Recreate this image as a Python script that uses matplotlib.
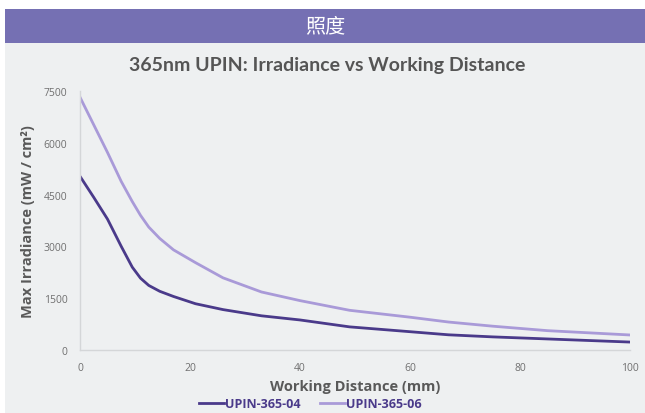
import matplotlib
matplotlib.use("Agg")
import matplotlib.pyplot as plt
from matplotlib.patches import Rectangle

# Dati
distance = [0, 2.5, 5, 7.5, 9.5, 11, 12.5, 14.5, 17, 21, 26, 33, 40, 49, 60, 67, 75, 85, 100]
upin_04 = [5030, 4420, 3790, 3000, 2400, 2080, 1870, 1700, 1550, 1340, 1170, 990, 870,
           670, 530, 440, 380, 320, 230]
upin_06 = [7320, 6520, 5720, 4880, 4300, 3900, 3560, 3230, 2900, 2530, 2090, 1680, 1430,
           1150, 950, 810, 690, 560, 435]
series_names = ["UPIN-365-04", "UPIN-365-06"]
y_ticks = [0, 1500, 3000, 4500, 6000, 7500]
x_ticks = [0, 20, 40, 60, 80, 100]

W, H = 645, 414
fig = plt.figure(figsize=(W / 100, H / 100), dpi=100)
fig.patch.set_facecolor("white")

# sfondo grigio e banda viola
fig.add_artist(Rectangle((5 / W, 0), 1 - 5 / W, 1 - 44 / H, transform=fig.transFigure,
                         facecolor="#eef0f1", edgecolor="none", zorder=0))
fig.add_artist(Rectangle((5 / W, 1 - 44 / H), 1 - 5 / W, 34 / H, transform=fig.transFigure,
                         facecolor="#7570b3", edgecolor="none", zorder=0))
fig.text(0.5 + 2.5 / W, 1 - 27 / H, "照度", color="white", fontsize=14.5,
         family=["Noto Sans CJK SC", "DejaVu Sans"], ha="center", va="center")
fig.text(0.5 + 5 / W, 1 - 66 / H, "365nm UPIN: Irradiance vs Working Distance",
         color="#555555", fontsize=14, fontweight="bold", family="Lato",
         ha="center", va="center")

ax = fig.add_axes([80 / W, 1 - 351 / H, 550 / W, 259 / H])
ax.set_facecolor("none")
ax.plot(distance, upin_04, color="#4a3a8a", linewidth=2, label=series_names[0],
        solid_joinstyle="round")
ax.plot(distance, upin_06, color="#a99ad8", linewidth=2, label=series_names[1],
        solid_joinstyle="round")

ax.set_xlim(0, 100)
ax.set_ylim(0, 7500)
ax.set_xticks(x_ticks)
ax.set_yticks(y_ticks)
ax.tick_params(length=0, labelsize=7.5, labelcolor="#707070", pad=9)
for lab in ax.get_xticklabels() + ax.get_yticklabels():
    lab.set_family("Open Sans")
for side in ["top", "right"]:
    ax.spines[side].set_visible(False)
for side in ["left", "bottom"]:
    ax.spines[side].set_color("#d4d6d8")
    ax.spines[side].set_linewidth(1)

ax.set_xlabel("Working Distance (mm)", fontsize=10.5, fontweight="bold", color="#595959",
              family="Open Sans", labelpad=4)
ax.set_ylabel("Max Irradiance (mW / cm²)", fontsize=10.5, fontweight="bold", color="#595959",
              family="Open Sans", labelpad=6)

leg = fig.legend(loc="center", bbox_to_anchor=(0.5 - 12 / W, 1 - 405 / H), ncol=2,
                 frameon=False, handlelength=2.0, handletextpad=0.1, columnspacing=1.5,
                 prop={"family": "Open Sans", "weight": "bold", "size": 9})
for t in leg.get_texts():
    t.set_color("#4a3a8a")

fig.savefig("out.png", dpi=100)
